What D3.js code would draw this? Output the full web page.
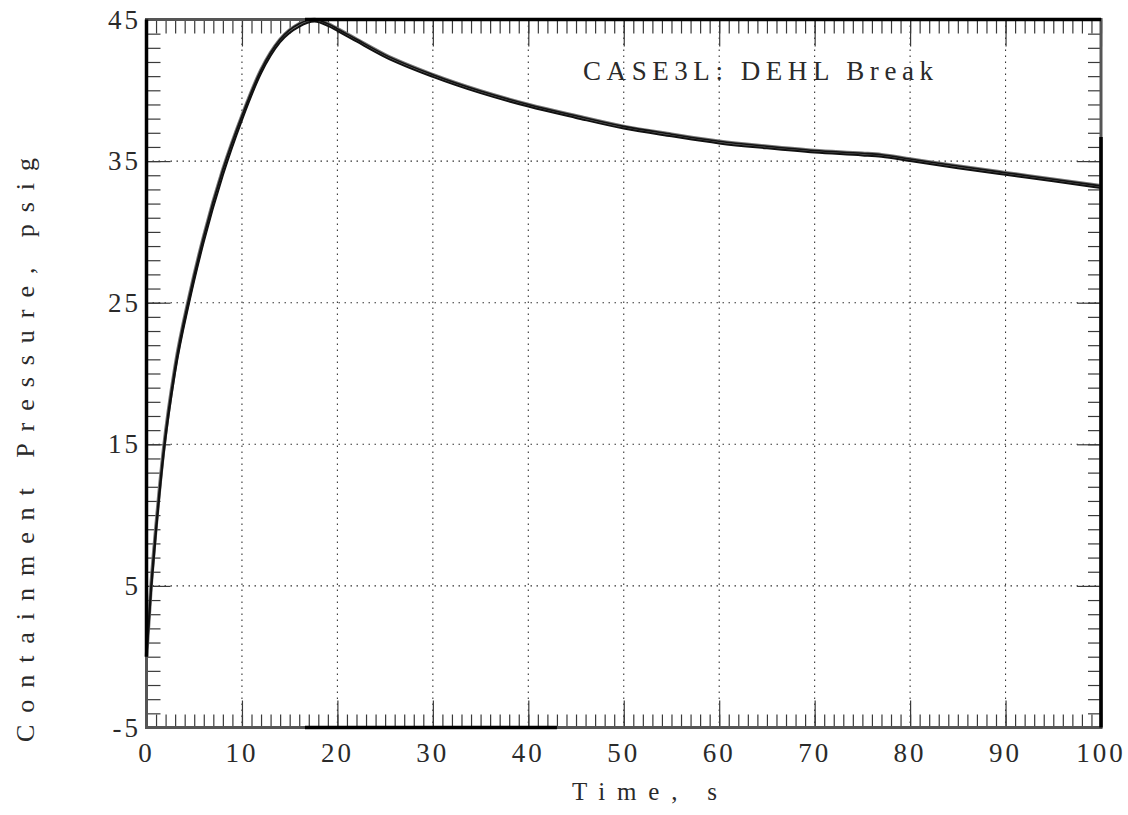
<!DOCTYPE html>
<html>
<head>
<meta charset="utf-8">
<script src="https://cdn.jsdelivr.net/npm/d3@7"></script>
<style>
  html, body { margin: 0; padding: 0; background: #fff; }
  svg { display: block; }
  text { font-family: "Liberation Serif", "Times New Roman", serif; fill: #2a2a2a; }
</style>
</head>
<body>
<svg id="chart" width="1128" height="815"></svg>
<script>
// ---- data ----
const timeS = [0, 0.5, 1, 1.8, 3, 4.5, 6, 8, 10, 12, 14, 16, 17.6, 19, 20, 22, 25, 30, 35, 40, 45, 50, 55, 60, 65, 70, 75, 77, 80, 85, 90, 95, 100];
const pressureA = [0, 5.2, 9.2, 14.7, 20.5, 25.5, 29.7, 34.4, 38.2, 41.45, 43.6, 44.7, 45.0, 44.7, 44.35, 43.6, 42.5, 41.1, 39.95, 39.0, 38.2, 37.45, 36.9, 36.4, 36.05, 35.75, 35.55, 35.45, 35.15, 34.65, 34.18, 33.72, 33.25];
const pressureB = [0, 4.8, 8.8, 14.3, 20.1, 25.1, 29.3, 34.0, 37.9, 41.2, 43.4, 44.5, 44.85, 44.55, 44.2, 43.45, 42.35, 40.95, 39.8, 38.85, 38.05, 37.3, 36.75, 36.25, 35.9, 35.6, 35.4, 35.3, 35.0, 34.5, 34.03, 33.57, 33.1];
const xTickValues = [0, 10, 20, 30, 40, 50, 60, 70, 80, 90, 100];
const yTickValues = [-5, 5, 15, 25, 35, 45];
const titleText = "CASE3L:  DEHL  Break";
const xLabel = "Time,  s";
const yLabel = "Containment  Pressure,  psig";

// ---- layout ----
const svg = d3.select("#chart");
const x = d3.scaleLinear().domain([0, 100]).range([146.5, 1101]);
const y = d3.scaleLinear().domain([-5, 45]).range([727.5, 19.5]);
const [x0, x1] = x.range();
const [y0, y1] = y.range();

// grid (dotted)
const grid = svg.append("g").attr("stroke", "#333").attr("stroke-width", 1.1).attr("stroke-dasharray", "1.5,4.5");
grid.selectAll(".gx").data(xTickValues.slice(1, -1)).join("line")
  .attr("x1", d => x(d)).attr("x2", d => x(d)).attr("y1", y1).attr("y2", y0);
grid.selectAll(".gy").data(yTickValues.slice(1, -1)).join("line")
  .attr("y1", d => y(d)).attr("y2", d => y(d)).attr("x1", x0).attr("x2", x1);

// minor & major ticks via d3 axes (inside, no domain path)
const minorX = d3.range(0, 101, 1);
const minorY = d3.range(-5, 46, 1);
function styleAxis(g) {
  g.select(".domain").remove();
  g.selectAll("text").remove();
  g.selectAll("line").attr("stroke", "#3a3a3a").attr("stroke-width", 1.2);
}
svg.append("g").attr("transform", `translate(0,${y0})`)
  .call(d3.axisBottom(x).tickValues(minorX).tickSize(-13)).call(styleAxis);
svg.append("g").attr("transform", `translate(0,${y1})`)
  .call(d3.axisTop(x).tickValues(minorX).tickSize(-14)).call(styleAxis);
svg.append("g").attr("transform", `translate(0,${y0})`)
  .call(d3.axisBottom(x).tickValues(xTickValues).tickSize(-27)).call(styleAxis);
svg.append("g").attr("transform", `translate(0,${y1})`)
  .call(d3.axisTop(x).tickValues(xTickValues).tickSize(-27)).call(styleAxis);
svg.append("g").attr("transform", `translate(${x0},0)`)
  .call(d3.axisLeft(y).tickValues(minorY).tickSize(-14)).call(styleAxis);
svg.append("g").attr("transform", `translate(${x1},0)`)
  .call(d3.axisRight(y).tickValues(minorY).tickSize(-13)).call(styleAxis);
svg.append("g").attr("transform", `translate(${x0},0)`)
  .call(d3.axisLeft(y).tickValues(yTickValues).tickSize(-24)).call(styleAxis);
svg.append("g").attr("transform", `translate(${x1},0)`)
  .call(d3.axisRight(y).tickValues(yTickValues).tickSize(-24)).call(styleAxis);

// curves
const line = (vals) => d3.line()
  .x((d, i) => x(timeS[i]))
  .y((d) => y(d))
  .curve(d3.curveMonotoneX)(vals);
svg.append("path").attr("d", line(pressureA)).attr("fill", "none").attr("stroke", "#777").attr("stroke-width", 3.6);
svg.append("path").attr("d", line(pressureB)).attr("fill", "none").attr("stroke", "#111").attr("stroke-width", 2);
svg.append("path").attr("d", line(pressureA)).attr("fill", "none").attr("stroke", "#111").attr("stroke-width", 1.6);

// frame
svg.append("rect").attr("x", x0).attr("y", y1).attr("width", x1 - x0).attr("height", y0 - y1)
  .attr("fill", "none").attr("stroke", "#555").attr("stroke-width", 3);
const heavy = svg.append("g").attr("stroke", "#000").attr("stroke-width", 3.5);
heavy.append("line").attr("x1", x(16.6)).attr("x2", x1).attr("y1", y1).attr("y2", y1);
heavy.append("line").attr("x1", x(16.6)).attr("x2", x(43)).attr("y1", y0).attr("y2", y0);
heavy.append("line").attr("x1", x1).attr("x2", x1).attr("y1", y(36.7)).attr("y2", y(-5));
heavy.append("line").attr("x1", x0).attr("x2", x0).attr("y1", y(45)).attr("y2", y(0));

// tick labels
svg.append("g").selectAll("text").data(xTickValues).join("text")
  .attr("x", d => x(d)).attr("y", 762)
  .attr("text-anchor", "middle").attr("font-size", 27).attr("letter-spacing", 3)
  .text(d => d);
svg.append("g").selectAll("text").data(yTickValues).join("text")
  .attr("x", 141).attr("y", d => y(d) + 9)
  .attr("text-anchor", "end").attr("font-size", 27).attr("letter-spacing", 3)
  .text(d => d);

// title
svg.append("text").attr("x", 583).attr("y", 80)
  .attr("font-size", 27).attr("textLength", 350).attr("lengthAdjust", "spacing")
  .text(titleText);

// axis titles
svg.append("text").attr("x", 572).attr("y", 800)
  .attr("font-size", 25).attr("textLength", 145).attr("lengthAdjust", "spacing")
  .text(xLabel);
svg.append("text").attr("transform", "translate(34,742) rotate(-90)")
  .attr("font-size", 26).attr("textLength", 584).attr("lengthAdjust", "spacing")
  .text(yLabel);
</script>
</body>
</html>
